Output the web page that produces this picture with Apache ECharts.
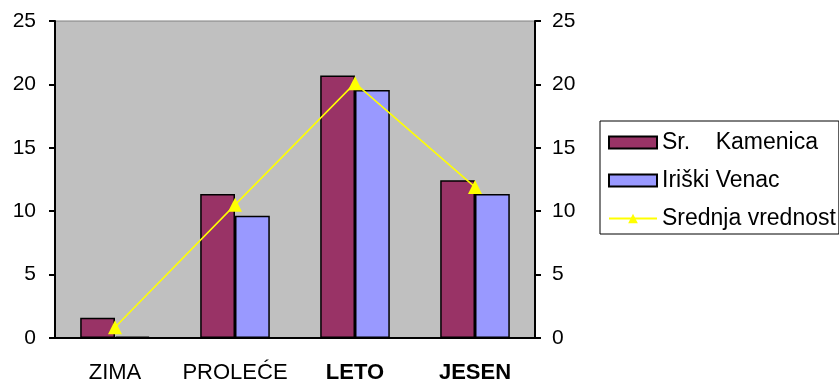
<!DOCTYPE html>
<html>
<head>
<meta charset="utf-8">
<script src="https://cdn.jsdelivr.net/npm/echarts@6/dist/echarts.min.js"></script>
<style>
  html, body { margin: 0; padding: 0; background: #fff; }
  #chart { width: 839px; height: 382px; }
</style>
</head>
<body>
<div id="chart"></div>
<script>
// Seasons and measured values per station
const seasons = ['ZIMA', 'PROLEĆE', 'LETO', 'JESEN'];
const boldSeasons = ['LETO', 'JESEN'];
const seriesNames = ['Sr.    Kamenica', 'Iriški Venac', 'Srednja vrednost'];
const kamenica = [1.6, 11.35, 20.7, 12.45];
const iriskiVenac = [0.1, 9.65, 19.55, 11.35];
const srednja = [0.85, 10.5, 20.1, 11.9];
const yTicks = { min: 0, max: 25, step: 5 };

const FONT = '"Liberation Sans", Arial, sans-serif';
const Y_FS = 21;
const X_FS = 22;
const LEGEND_FS = 23;

const chart = echarts.init(document.getElementById('chart'));

const yAxisBase = (pos) => ({
  type: 'value',
  position: pos,
  min: yTicks.min,
  max: yTicks.max,
  interval: yTicks.step,
  axisLine: { show: true, lineStyle: { color: '#000', width: 2 } },
  axisTick: { show: true, length: 6, lineStyle: { color: '#000', width: 2 } },
  axisLabel: { color: '#000', fontFamily: FONT, fontSize: Y_FS, margin: pos === 'left' ? 19 : 17 },
  splitLine: { show: false }
});

chart.setOption({
  animation: false,
  backgroundColor: '#fff',
  grid: {
    left: 55, right: 304, top: 21, bottom: 44,
    outerBoundsMode: 'none',
    containLabel: false,
    show: true, backgroundColor: '#C0C0C0', borderColor: '#808080', borderWidth: 1
  },
  legend: {
    orient: 'vertical',
    left: 600, top: 121,
    padding: [10, 3, 4, 8],
    itemGap: 15,
    itemWidth: 48, itemHeight: 12,
    borderColor: '#000', borderWidth: 1,
    textStyle: { color: '#000', fontFamily: FONT, fontSize: LEGEND_FS },
    data: [
      { name: seriesNames[0], icon: 'rect' },
      { name: seriesNames[1], icon: 'rect' },
      { name: seriesNames[2] }
    ]
  },
  xAxis: {
    type: 'category',
    data: seasons.map(s => boldSeasons.includes(s)
      ? { value: s, textStyle: { fontWeight: 'bold' } } : s),
    axisLine: { lineStyle: { color: '#000', width: 2 } },
    axisTick: { length: 7, lineStyle: { color: '#000', width: 2 } },
    axisLabel: {
      color: '#000', fontFamily: FONT, fontSize: X_FS, margin: 24,
      interval: 0, hideOverlap: false
    }
  },
  yAxis: [yAxisBase('left'), yAxisBase('right')],
  series: [
    {
      name: seriesNames[0], type: 'bar', data: kamenica,
      barGap: '0%', barCategoryGap: '42%',
      itemStyle: { color: '#993366', borderColor: '#000', borderWidth: 1.5 }
    },
    {
      name: seriesNames[1], type: 'bar', data: iriskiVenac,
      barGap: '0%', barCategoryGap: '42%',
      itemStyle: { color: '#9999FF', borderColor: '#000', borderWidth: 1.5 }
    },
    {
      name: seriesNames[2], type: 'line', data: srednja,
      symbol: 'triangle', symbolSize: 14,
      lineStyle: { color: '#FFFF00', width: 1.5 },
      itemStyle: { color: '#FFFF00' },
      z: 5
    }
  ]
});
</script>
</body>
</html>
